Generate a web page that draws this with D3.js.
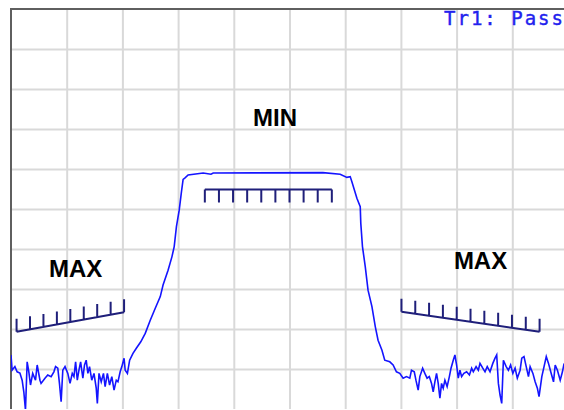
<!DOCTYPE html>
<html>
<head>
<meta charset="utf-8">
<script src="https://cdn.jsdelivr.net/npm/d3@7"></script>
<style>
  html, body { margin: 0; padding: 0; background: #fff; }
  svg { display: block; }
</style>
</head>
<body>
<div id="chart"></div>
<script>
// trace readings: x in % of span, y in dB
var traceX = [0, 0.2, 0.7, 1.1, 1.6, 2.0, 2.3, 2.6, 2.9, 3.2, 3.5, 3.9, 4.4, 4.7, 5.2, 5.4, 6.1, 6.6, 7.2, 7.7,
  8.0, 8.4, 8.7, 9.0, 9.3, 9.7, 10.2, 10.6, 11.0, 11.3, 11.6, 11.9, 12.2, 12.5, 12.9, 13.2, 13.5, 13.8, 14.1, 14.5,
  14.9, 15.3, 15.5, 15.8, 16.2, 16.6, 16.9, 17.3, 17.7, 18.1, 18.5, 18.9, 19.2, 19.6, 19.9, 20.3, 20.5, 20.9, 21.3, 21.9,
  22.5, 23.3, 24.1, 25.0, 25.9, 26.8, 27.3, 28.2, 28.9, 29.3, 29.7, 30.2, 30.6, 30.9, 31.2, 31.8, 34.5, 35.9, 36.3, 56.0,
  59.1, 60.3, 60.9, 61.2, 62.1, 62.7, 62.8, 63.1, 63.6, 64.1, 64.8, 65.4, 65.9, 66.6, 67.1, 68.0, 68.6, 69.2, 69.8, 70.4,
  71.0, 71.6, 71.9, 72.4, 72.7, 73.1, 73.4, 73.9, 74.3, 74.7, 75.1, 75.5, 75.8, 76.1, 76.4, 76.7, 77.0, 77.3, 77.6, 77.9,
  78.3, 78.7, 79.0, 79.4, 79.7, 80.0, 80.3, 80.6, 80.9, 81.3, 81.8, 82.3, 82.7, 83.0, 83.5, 83.9, 84.2, 84.7, 85.1, 85.5,
  86.0, 86.5, 86.9, 87.2, 87.5, 87.8, 88.1, 88.4, 88.9, 89.3, 89.7, 90.1, 90.5, 90.9, 91.4, 91.7, 92.1, 92.5, 92.9, 93.2,
  93.7, 94.1, 94.5, 94.8, 95.3, 95.7, 96.1, 96.5, 96.9, 97.4, 97.7, 98.1, 98.6, 99.0, 99.3];
var traceY = [-86.5, -90.3, -89.4, -90.7, -91.0, -92.8, -95.7, -100.3, -88.2, -90.7, -94.0, -91.1, -92.8, -89.0, -92.8, -93.6, -92.3, -91.5, -91.9, -90.7,
  -89.4, -89.8, -93.6, -98.2, -90.3, -89.4, -91.1, -93.6, -91.1, -91.9, -88.2, -92.8, -90.3, -88.2, -92.3, -89.0, -87.8, -91.1, -89.4, -92.8,
  -91.1, -94.8, -98.6, -91.1, -93.2, -91.1, -94.4, -91.1, -94.0, -91.9, -95.3, -92.8, -93.2, -90.7, -89.4, -87.3, -90.3, -91.1, -87.8, -86.1,
  -84.8, -83.2, -81.1, -77.8, -74.8, -71.9, -69.0, -65.3, -61.9, -59.4, -54.4, -50.3, -45.7, -42.6, -42.3, -41.5, -41.0, -41.3, -41.0, -40.9,
  -41.3, -42.1, -41.9, -43.2, -47.3, -49.4, -53.6, -59.4, -64.4, -70.3, -74.4, -79.4, -82.8, -85.3, -87.8, -88.2, -89.0, -90.7, -91.1, -92.3,
  -91.9, -92.3, -90.3, -90.7, -92.8, -95.3, -91.9, -89.8, -91.1, -92.3, -91.9, -93.6, -95.7, -93.2, -91.1, -93.6, -97.3, -93.6, -94.8, -92.8,
  -94.4, -91.9, -89.8, -87.8, -86.5, -89.0, -92.3, -90.3, -91.9, -91.1, -90.7, -91.5, -89.8, -90.7, -89.4, -90.3, -88.6, -89.8, -90.7, -89.4,
  -90.7, -88.6, -87.3, -86.5, -93.6, -96.5, -98.6, -87.8, -89.4, -90.3, -89.0, -91.1, -89.8, -92.3, -90.3, -87.3, -86.9, -89.4, -91.9, -89.4,
  -91.1, -93.2, -94.8, -96.9, -91.9, -89.4, -86.9, -88.6, -90.7, -93.2, -89.0, -90.3, -92.8, -90.7, -88.6];

// limit segments
var limitNames = ["MAX", "MIN", "MAX"];
var limitX1 = [1.0, 34.8, 70.1];
var limitX2 = [20.3, 57.6, 94.9];
var limitY1 = [-80.7, -45.1, -75.7];
var limitY2 = [-75.8, -45.1, -80.7];
var labelX = [11.6, 47.4, 84.3];
var labelY = [-67.0, -29.3, -65.1];

var statusText = "Tr1: Pass";

var width = 564, height = 410;
var plotL = 11, plotT = 9, plotW = 557, plotH = 400;

var svg = d3.select("#chart").append("svg")
    .attr("width", width)
    .attr("height", height);

var x = d3.scaleLinear().domain([0, 100]).range([plotL, plotL + plotW]);
var y = d3.scaleLinear().domain([0, -100]).range([plotT, plotT + plotH]);

svg.append("clipPath").attr("id", "plot")
    .append("rect")
    .attr("x", plotL).attr("y", plotT)
    .attr("width", plotW).attr("height", plotH);

// grid
svg.append("g")
    .attr("transform", "translate(0," + plotT + ")")
    .call(d3.axisTop(x).tickValues(d3.range(10, 100, 10)).tickSize(-plotH).tickFormat(""));
svg.append("g")
    .attr("transform", "translate(" + plotL + ",0)")
    .call(d3.axisLeft(y).tickValues(d3.range(-10, -100, -10)).tickSize(-plotW).tickFormat(""));
svg.selectAll(".domain").remove();
svg.selectAll(".tick line")
    .attr("stroke", "#d9d9d9")
    .attr("stroke-width", 2);

// frame
svg.append("path")
    .attr("d", "M" + plotL + "," + (plotT + plotH) + "V" + plotT + "H" + (plotL + plotW))
    .attr("fill", "none")
    .attr("stroke", "#5f5f5f")
    .attr("stroke-width", 2);

// limit lines with tick marks
var tickLen = 13;
limitNames.forEach(function (name, i) {
    var x1 = x(limitX1[i]), x2 = x(limitX2[i]);
    var y1 = y(limitY1[i]), y2 = y(limitY2[i]);
    var dir = name === "MAX" ? -1 : 1;
    var n = Math.round((x2 - x1) / 14);
    var d = "M" + x1 + "," + y1 + "L" + x2 + "," + y2;
    for (var k = 0; k <= n; k++) {
        var tx = x1 + (x2 - x1) * k / n;
        var ty = y1 + (y2 - y1) * k / n;
        d += "M" + tx + "," + ty + "V" + (ty + dir * tickLen);
    }
    svg.append("path")
        .attr("d", d)
        .attr("fill", "none")
        .attr("stroke", "#1f1f7a")
        .attr("stroke-width", 2);

    svg.append("text")
        .attr("x", x(labelX[i]))
        .attr("y", y(labelY[i]))
        .attr("text-anchor", "middle")
        .style("font-family", "Liberation Sans, Arial, sans-serif")
        .style("font-weight", "bold")
        .style("font-size", "24px")
        .attr("fill", "#000")
        .text(name);
});

// trace
var trace = traceX.map(function (d, i) { return [d, traceY[i]]; });
svg.append("path")
    .datum(trace)
    .attr("clip-path", "url(#plot)")
    .attr("fill", "none")
    .attr("stroke", "#1414ff")
    .attr("stroke-width", 1.6)
    .attr("stroke-linejoin", "miter")
    .attr("d", d3.line()
        .x(function (d) { return x(d[0]); })
        .y(function (d) { return y(d[1]); }));

svg.append("text")
    .attr("x", 444)
    .attr("y", 25)
    .style("font-family", "DejaVu Sans Mono, monospace")
    .style("font-size", "19px")
    .style("letter-spacing", "2px")
    .style("stroke", "#2222ee")
    .style("stroke-width", 0.4)
    .attr("fill", "#2222ee")
    .text(statusText);
</script>
</body>
</html>
